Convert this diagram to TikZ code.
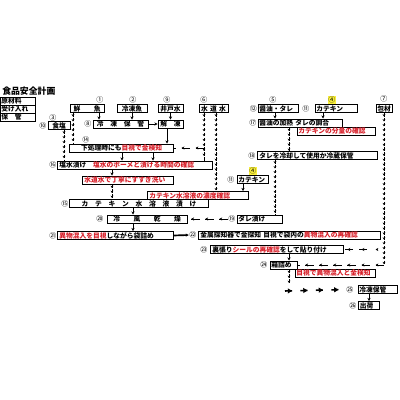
\documentclass[tikz,border=0pt]{standalone}
\usepackage{fontspec}
\newfontfamily\jp{Noto Sans CJK JP}
\usetikzlibrary{positioning,calc,arrows.meta,decorations.markings}

\definecolor{chkred}{RGB}{215,30,40}
\definecolor{hilite}{RGB}{250,240,60}
\newcommand{\redtx}[1]{\textcolor{chkred}{#1}}

\tikzset{
  box/.style={draw,fill=white,line width=0.7pt,inner xsep=1pt,inner ysep=0pt,minimum height=0.2cm,align=left,font=\jp\bfseries\fontsize{4.8}{5.5}\selectfont},
  bw/.style={text width=#1*0.7113pt-2pt},
  ctr/.style={align=center},
  chk/.style={text=chkred},
  num/.style={inner sep=0.3pt,font=\jp\fontsize{5}{5}\selectfont},
  dn/.style={-{Stealth[length=2.2pt,width=2.2pt]},line width=0.6pt},
  dnchain/.style={line width=0.5pt,dash pattern=on 2.5pt off 1pt,
    decoration={markings,mark=between positions 2.5pt and 1 step 3.5pt with {\arrow{Stealth[length=1.6pt,width=2pt]}}},
    postaction={decorate}},
  leftchain/.style={line width=0.5pt,dash pattern=on 6pt off 4pt,
    decoration={markings,mark=between positions 6pt and 1 step 10pt with {\arrow{Stealth[length=2pt,width=2.2pt]}}},
    postaction={decorate}},
  boldchain/.style={line width=1.1pt,dash pattern=on 5pt off 6pt,
    decoration={markings,mark=between positions 5pt and 1 step 11pt with {\arrow{Triangle[length=3pt,width=3.5pt]}}},
    postaction={decorate}},
}

\begin{document}
\begin{tikzpicture}[x=0.025cm,y=-0.025cm]

\fill [white] (0,0) rectangle (400,400);
\useasboundingbox (0,0) rectangle (400,400);

% title and legend
\node [anchor=west,inner sep=0pt,font=\jp\bfseries\fontsize{6.3}{7}\selectfont] at (2,91) (title) {食品安全計画};
\node [box,bw=35] at (17.5,101) (lg1) {原材料};
\node [box,bw=35] at (17.5,109) (lg2) {受け入れ};
\node [box,bw=35] at (17.5,117) (lg3) {保　管};

% raw materials
\node [num] at (100,100) (n1) {①};
\node [num] at (133,100) (n2) {②};
\node [num] at (167,100) (n9) {⑨};
\node [num] at (204,100) (n6) {⑥};
\node [num] at (273,100) (n5) {⑤};
\node [num,fill=hilite] at (332,100) (n4a) {④};
\node [num] at (384,99) (n7) {⑦};
\node [num] at (253.5,108.5) (n12) {⑫};
\node [num] at (306,108.5) (n11a) {⑪};

\node [box,bw=34,ctr] at (87,108.5) (fresh) {鮮　　魚};
\node [box,bw=30,ctr] at (132,108.5) (frozen) {冷凍魚};
\node [box,bw=25,ctr] at (170.5,108.5) (well) {井戸水};
\node [box,bw=29,ctr] at (213.5,108.5) (tap) {水 道 水};
\node [box,bw=40] at (278,108.5) (soy) {醤油・タレ};
\node [box,bw=42] at (336,108.5) (cat1) {カテキン};
\node [box,bw=16,ctr] at (384,108.5) (pack) {包材};

% second row
\node [num] at (53,117.5) (n3) {③};
\node [num] at (43,125.5) (n10) {⑩};
\node [box,bw=22,ctr] at (59,125.5) (salt) {食塩};
\node [num] at (88,124) (n8) {⑧};
\node [box,bw=55,ctr] at (120.5,124) (fstore) {冷　凍　保　管};
\node [box,bw=25,ctr] at (170.5,124) (thaw) {解　凍};
\node [num] at (253,123) (n17) {⑰};
\node [box,bw=84] at (300,123) (heat) {醤油の加熱 タレの調合};
\node [box,bw=78,chk] at (336,131) (catamt) {カテキンの分量の確認};

% pretreatment
\node [num] at (86,140) (n14) {⑭};
\node [box,bw=103,ctr] at (121.5,148) (prep) {下処理時にも\redtx{目視で金検知}};
\node [num] at (252,155.5) (n18) {⑱};
\node [box,bw=119] at (317.5,155.5) (cool) {タレを冷却して使用か冷蔵保管};

\node [num] at (53,165) (n16) {⑯};
\node [box,bw=154] at (135,165) (brine) {塩水漬け　\redtx{塩水のボーメと漬ける時間の確認}};
\node [box,bw=90,chk] at (128,180) (rinse) {水道水で丁寧にすすぎ洗い};
\node [num,fill=hilite] at (253,171) (n4b) {④};
\node [num] at (231,179.5) (n11b) {⑪};
\node [box,bw=31] at (252.5,179.5) (cat2) {カテキン};
\node [num] at (65,203.5) (n15) {⑮};
\node [box,bw=138,ctr] at (139,203.5) (soak) {カ　テ　キ　ン　水　溶　液　漬　け};
\node [box,bw=100,chk] at (198,195.5) (catconc) {カテキン水溶液の濃度確認};

\node [num] at (100,219) (n20) {⑳};
\node [box,bw=80,ctr] at (147,219) (dry) {冷　　風　　乾　　燥};
\node [num] at (232,219) (n19) {⑲};
\node [box,bw=45] at (259.5,219) (sauce) {タレ漬け};

% packing
\node [num] at (53,235.5) (n21) {㉑};
\node [box,bw=115] at (115.5,235.5) (bag) {\redtx{異物混入を目視}しながら袋詰め};
\node [num] at (193,235) (n22) {㉒};
\node [box,bw=181] at (289.5,235) (metal) {金属探知器で金探知 目視で袋内の\redtx{異物混入の再確認}};
\node [num] at (204,249.5) (n23) {㉓};
\node [box,bw=132] at (277,249.5) (seal) {裏張り\redtx{シールの再確認}をして貼り付け};
\node [num] at (264,265) (n24) {㉔};
\node [box,bw=27] at (283.5,265) (boxp) {箱詰め};
\node [box,bw=80,chk] at (335,273) (boxchk) {目視で異物混入と金検知};
\node [num] at (350,289.5) (n25) {㉕};
\node [box,bw=39] at (377.5,289.5) (fz) {冷凍保管};
\node [num] at (353,305.5) (n26) {㉖};
\node [box,bw=21] at (369,305.5) (ship) {出荷};

\coordinate (tapmid) at (204,148);
\coordinate (packmid) at (384,249.5);
\coordinate (packend) at (384,265);
\coordinate (drop) at (289,283);
\coordinate (rowstart) at (285,291);

% fish side
\draw [dnchain] (73,0 |- fresh.south) -- (73,0 |- prep.north);
\draw [dn] (99,0 |- fresh.south) -- (99,0 |- fstore.north);
\draw [dn] (132,0 |- frozen.south) -- (132,0 |- fstore.north);
\draw [dn] (fstore) -- (thaw);
\draw [dn] (well) -- (thaw);
\draw [dn] (167,0 |- thaw.south) -- (167,0 |- prep.north);
\draw [dnchain] (64,0 |- salt.south) -- (64,0 |- brine.north);
\draw [dnchain] (204,0 |- tap.south) -- (204,0 |- brine.north);
\draw [dnchain] (216,0 |- tap.south) -- (216,0 |- catconc.north);
\draw [leftchain] (tapmid) -- (prep.east);
\draw [dn] (122,0 |- prep.south) -- (122,0 |- brine.north);
\draw [dn] (153,0 |- prep.south) -- (153,0 |- brine.north);
\draw [dn] (112,0 |- brine.south) -- (112,0 |- rinse.north);
\draw [dnchain] (112,0 |- rinse.south) -- (112,0 |- soak.north);
\draw [dn] (243,0 |- cat2.south) -- (243,0 |- catconc.north);
\draw [dn] (133,0 |- soak.south) -- (133,0 |- dry.north);
\draw [dn] (133,0 |- dry.south) -- (133,0 |- bag.north);

% sauce side
\draw [dn] (275,0 |- soy.south) -- (275,0 |- heat.north);
\draw [dn] (323,0 |- cat1.south) -- (323,0 |- heat.north);
\draw [dnchain] (289,0 |- heat.south) -- (289,0 |- cool.north);
\draw [dnchain] (275,0 |- cool.south) -- (275,0 |- sauce.north);
\draw [leftchain] (n19.west) -- (dry.east);

% packing line
\draw [dn,line width=1.2pt] (bag.east) -- (n22.west);
\draw [dnchain] (pack.south) -- (packend);
\draw [leftchain,shorten <=12pt] (packmid) -- (seal.east);
\draw [leftchain] (packend) -- (boxp.east);
\draw [dn] (289,0 |- seal.south) -- (289,0 |- boxp.north);
\draw [dnchain] (289,0 |- boxp.south) -- (drop);
\draw [boldchain] (rowstart) -- (n25.west);
\draw [dn] (369,0 |- fz.south) -- (ship.north);

\end{tikzpicture}
\end{document}
